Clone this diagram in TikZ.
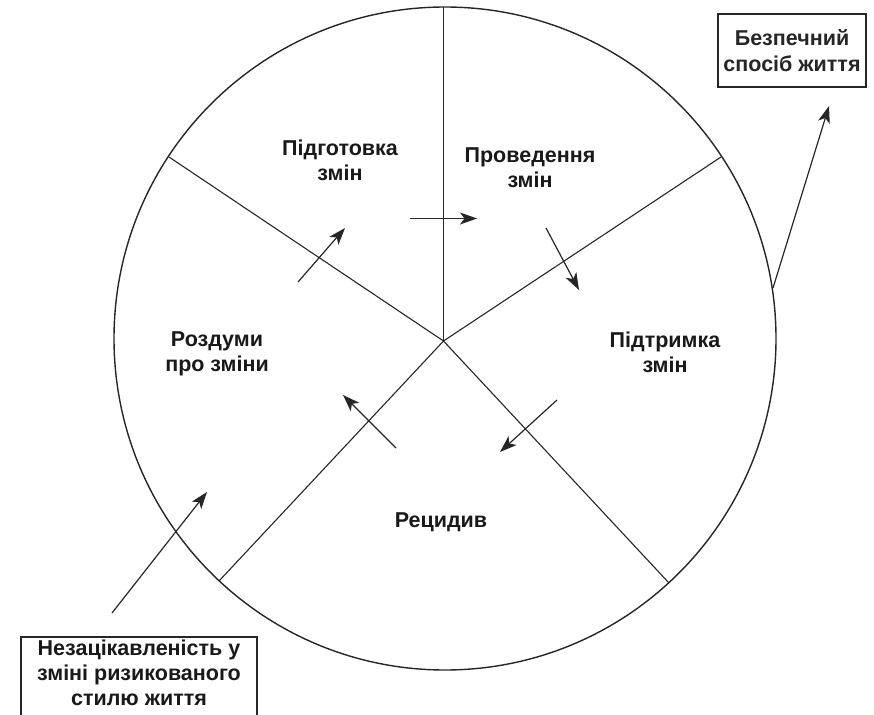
\documentclass[tikz,border=0pt]{standalone}
\usepackage{fontspec}
\setmainfont{Liberation Sans}
\usetikzlibrary{arrows.meta}
\tikzset{
  lbl/.style={align=center, font=\bfseries\fontsize{21.5}{25.3}\selectfont, text=black!90, inner sep=0pt},
  rad/.style={line width=1.1pt, black!85},
  arr/.style={line width=1.2pt, black!85, -{Stealth[length=17pt,width=12pt,inset=4.5pt]}},
  boxline/.style={line width=1.2pt, black!85}
}
\begin{document}
\begin{tikzpicture}[x=1pt,y=-1pt]
\clip (0,0) rectangle (874,714);
\useasboundingbox (0,0) rectangle (874,714);
% circle
\draw[line width=1.4pt, black!85] (445,338.5) circle[x radius=331pt, y radius=331.5pt];
% radii
\coordinate (O) at (443.5,341);
\coordinate (rT) at (443.5,7.5);
\coordinate (rUL) at (169,157);
\coordinate (rUR) at (721,157);
\coordinate (rLL) at (219,581);
\coordinate (rLR) at (669,583);
\draw[rad] (O) -- (rT);
\draw[rad] (O) -- (rUL);
\draw[rad] (O) -- (rUR);
\draw[rad] (O) -- (rLL);
\draw[rad] (O) -- (rLR);
% labels
\node[lbl] (prep) at (340,160) {Підготовка\\змін};
\node[lbl] (act) at (530,168) {Проведення\\змін};
\node[lbl] (maint) at (665,352) {Підтримка\\змін};
\node[lbl] (contem) at (217,354) {Роздуми\\про зміни};
\node[lbl] (relapse) at (441,522) {Рецидив};
% boxes
\node[lbl, draw, boxline, minimum width=148pt, minimum height=73pt] (safe) at (792,50.5) {Безпечний\\спосіб життя};
\node[lbl] (precon) at (139,673) {Незацікавленість у\\зміні ризикованого\\стилю життя};
\coordinate (bbl) at (21,725);
\coordinate (btl) at (21,637);
\coordinate (btr) at (257,637);
\coordinate (bbr) at (257,725);
\draw[boxline] (bbl) -- (btl) -- (btr) -- (bbr);
% inner arrows
\coordinate (a1s) at (298,282); \coordinate (a1e) at (345,228);
\coordinate (a2s) at (410,218.5); \coordinate (a2e) at (477,218.5);
\coordinate (a3s) at (546,228); \coordinate (a3e) at (579,290);
\coordinate (a4s) at (557,400); \coordinate (a4e) at (500,452);
\coordinate (a5s) at (396,448); \coordinate (a5e) at (343,395);
\draw[arr] (a1s) -- (a1e);
\draw[arr] (a2s) -- (a2e);
\draw[arr] (a3s) -- (a3e);
\draw[arr] (a4s) -- (a4e);
\draw[arr] (a5s) -- (a5e);
% outer arrows
\coordinate (e1s) at (773,288); \coordinate (e1e) at (829,106);
\coordinate (e2s) at (112,613); \coordinate (e2e) at (207,492);
\draw[arr] (e1s) -- (e1e);
\draw[arr] (e2s) -- (e2e);
\end{tikzpicture}
\end{document}
